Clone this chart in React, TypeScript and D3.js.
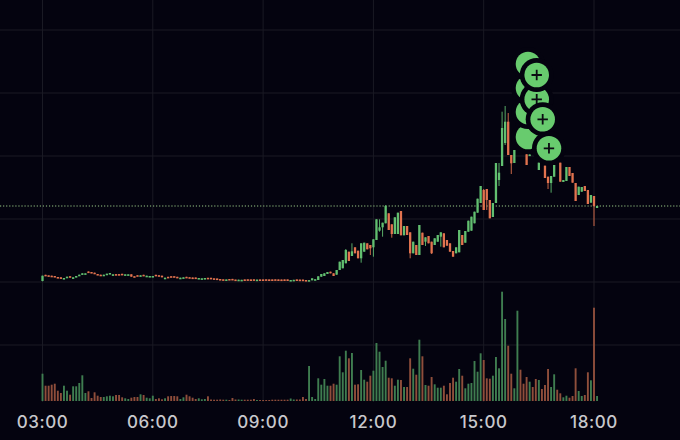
import React from "react";
import * as d3 from "d3";

const opens = [
  159, 165.2, 164.7, 164.3, 164, 163, 162.7, 161.3, 162, 163.8, 161.9, 162.7, 164, 165.3, 166.2, 168.5, 168, 167.3, 166, 165.3,
  164.7, 165.3, 166.3, 165, 165.9, 165.9, 166.2, 165.2, 165.2, 165.7, 163.8, 164.8, 164, 165.2, 163.8, 163.5, 163.5, 165.2, 164.8, 164.3,
  161.8, 163.2, 163.8, 163.8, 163.2, 161.8, 162.2, 163.2, 162.8, 162.5, 162.5, 161.5, 161.2, 161.5, 162.2, 162.2, 161.7, 161.5, 161, 160.7,
  160.2, 161, 161.1, 160.5, 159.9, 159.8, 160.6, 160.7, 160.6, 160.7, 160, 160.6, 160.6, 160.7, 160.6, 160.6, 160.7, 160.6, 160.5, 160.6,
  160.6, 159.6, 159.8, 160.6, 160.4, 160.4, 160, 159.6, 159.7, 160.2,
  160, 163.3, 164, 166, 168.3, 166.7, 165.3, 170, 171.7, 176.7, 188.3, 184, 192.7, 189.3, 181.7, 188.3, 196.7, 195, 192.7, 200,
  209.3, 212.7, 216.7, 226.7, 215.7, 206, 206, 229, 204.7, 214, 207.7, 186.7, 195, 185, 207.3, 198.3, 204, 198.3, 195, 198.3,
  203.3, 206.7, 200, 196.7, 189, 186.7, 187.7, 205, 197.3, 208.3, 209.3, 216.7, 227.3, 237, 250, 251, 240, 223, 237, 260,
  274, 297, 318.3, 285, 277, 294, 305, 300, 285.7, 284.5, 295, 290, 270, 281, 274.3, 263.3, 257, 263.3, 284, 277.3,
  258, 259, 273, 267, 257, 245, 248.3, 254, 250, 237.3, 244, 232,
];
const closes = [
  164.3, 164.7, 164.3, 164, 163, 162.7, 161.3, 162, 163.3, 163.3, 162.7, 164, 165.3, 166.7, 166.7, 168, 167.3, 166, 165.3, 164.7,
  165.3, 166.3, 167, 165.7, 165.3, 165.3, 165.7, 165.7, 165.7, 163.3, 163.3, 164.3, 164.7, 164.7, 164.3, 164, 164, 164.7, 164.3, 162.7,
  162.3, 162.7, 163.3, 163.3, 162.7, 162.3, 162.7, 162.7, 162.3, 162, 162, 162, 161.7, 162, 161.7, 161.7, 161.2, 161, 160, 160.2,
  160.6, 160.6, 160.5, 160.3, 160.3, 160.2, 160.2, 160.3, 160.2, 160.2, 160.4, 160.2, 160.2, 160.3, 160.2, 160.2, 160.3, 160.2, 160.1, 160.2,
  160.2, 160, 160.2, 160.2, 160, 160, 159.5, 159.9, 161.7, 160.8,
  163.7, 166, 166.7, 168, 166.7, 164, 170, 178.3, 180, 190, 179, 188.7, 186.7, 181.7, 196.7, 197.3, 190.7, 191.7, 200.7, 220.7,
  212.7, 217.3, 234, 210, 206, 222.7, 227.3, 204.7, 214, 205, 186.7, 198.3, 185, 215, 195, 202.7, 196.7, 186.7, 201.7, 205,
  207.7, 192.7, 194.3, 188.3, 183.3, 192.7, 210, 195, 209, 219.3, 223.3, 228.3, 241.3, 254, 230, 240, 221.7, 237, 277, 267.3,
  312, 318.3, 285, 276.7, 290, 310, 290, 288, 275, 285.5, 290, 285, 277.3, 279, 262, 257, 264, 275, 282, 258.3,
  260, 273, 264, 257.3, 239, 253.3, 253, 249, 236, 245, 234, 234,
];
const volumes = [
  27.3, 15.3, 15.3, 16.3, 17.3, 10.3, 8, 15.3, 10.3, 6.3, 14.7, 14.7, 18, 25.7, 8, 9.7, 3, 8.7, 5.3, 4,
  4, 4.7, 5.3, 4.7, 6, 6, 3.7, 2.7, 2, 3.3, 4, 4, 6.7, 6, 3.3, 2.7, 5.3, 2, 2.7, 1.7,
  2.7, 4.7, 5, 5, 4.7, 2, 3.7, 6.3, 4.7, 3.3, 2, 2.7, 1.7, 2, 4.7, 1.5, 1.3, 1.3, 1.5, 1.3,
  1.3, 1, 3, 1.5, 1.5, 1.3, 1.3, 1.3, 1.3, 2, 1, 1, 1, 1, 1, 1.3, 1.3, 1.3, 1.3, 1.3,
  1.3, 2.5, 1.5, 1.5, 1.5, 4, 2, 35, 4, 2,
  22.7, 16.3, 22, 15.3, 15.3, 17.3, 16.3, 44.7, 28.7, 50.3, 42.7, 48, 16.3, 16.7, 31, 21.3, 19.3, 25.3, 30.3, 58,
  49.3, 34, 40.3, 23.3, 22.7, 15.3, 21.3, 21, 14, 14, 42.7, 32.3, 26.3, 61.3, 44.7, 16, 15.3, 24, 16.7, 13.3,
  13.3, 15.3, 6.7, 18, 23.3, 19.3, 32, 25.3, 12.7, 17.3, 18, 40, 29.3, 47.7, 41, 22.7, 22.3, 25.3, 44, 32.7,
  109.3, 82, 55.3, 27.3, 12.7, 90.3, 31.3, 17.3, 24, 19.3, 14, 22, 21, 12, 16, 32, 14, 26.7, 11.3, 7.7,
  3.7, 5.3, 3.3, 5, 32.7, 10, 5, 6, 28.7, 20.7, 93.3, 5,
];
// bars whose wick reaches past the body: [bar, price]
const highWicks = [[99, 191], [101, 196.7], [110, 220.7], [112, 235], [144, 251], [149, 277], [150, 328.3], [151, 334], [152, 327]];
const lowWicks = [
  [0, 158.7], [104, 177.3], [107, 185], [108, 183.3], [110, 208.3], [111, 203.3], [114, 202.3], [120, 181.7], [125, 194], [127, 186],
  [130, 193.3], [145, 230], [149, 254], [151, 295], [153, 266], [165, 251], [166, 247.3], [180, 214],
];
const priceLines = [410, 347, 284, 221, 158, 95];
const lastPrice = 234;
// buy markers, in stacking order: [bar, price]
const backMarkers = [[158.46, 303], [158.46, 328], [158.46, 352], [158.46, 376]];
const frontMarkers = [[161.3, 340.7], [161.3, 365], [163.25, 320.7], [165.3, 291.7]];

const WIDTH = 680;
const HEIGHT = 440;
const BG = "#04030f";
const GREEN = "#62bf70";
const RED = "#e2734f";
const VOL_GREEN = "#3f7d50";
const VOL_RED = "#8f4e3b";
const BUBBLE = "#68cb6e";

const start = new Date(2024, 0, 1, 3, 0);
const end = new Date(2024, 0, 1, 18, 0);
const barTime = (i: number) => d3.timeSecond.offset(start, Math.round(i * 300));
const fmt = d3.timeFormat("%H:%M");

const x = d3.scaleTime().domain([start, end]).range([42.5, 594]);
const y = d3.scaleLinear().domain([0, 440]).range([440, 0]);
const vy = d3.scaleLinear().domain([0, 120]).range([401, 281]);
const timeTicks = d3.timeHour.range(start, d3.timeMinute.offset(end, 1), 3);

const highs = new Map(highWicks as [number, number][]);
const lows = new Map(lowWicks as [number, number][]);

export default function App() {
  return (
    <svg
      width={WIDTH}
      height={HEIGHT}
      style={{ position: "absolute", left: 0, top: 0, display: "block", background: BG }}
    >
      <rect width={WIDTH} height={HEIGHT} fill={BG} />
      {priceLines.map((p) => (
        <line key={p} x1={0} x2={WIDTH} y1={y(p)} y2={y(p)} stroke="#1a1a24" strokeWidth={1} />
      ))}
      {timeTicks.map((t) => (
        <line key={+t} x1={x(t)} x2={x(t)} y1={0} y2={402} stroke="#1a1a24" strokeWidth={1} />
      ))}

      {volumes.map((v, i) => (
        <rect
          key={i}
          x={x(barTime(i)) - 0.95}
          y={vy(v)}
          width={1.9}
          height={vy(0) - vy(v)}
          fill={closes[i] >= opens[i] ? VOL_GREEN : VOL_RED}
        />
      ))}

      <line x1={0} x2={WIDTH} y1={y(lastPrice)} y2={y(lastPrice)} stroke="#9acb87" strokeWidth={1.2} strokeDasharray="1.2 1.86" />

      {opens.map((o, i) => {
        const c = closes[i];
        const cx = x(barTime(i));
        const color = c >= o ? GREEN : RED;
        const top = Math.max(o, c);
        const bottom = Math.min(o, c);
        return (
          <g key={i}>
            <line
              x1={cx}
              x2={cx}
              y1={y(highs.get(i) ?? top)}
              y2={y(lows.get(i) ?? bottom)}
              stroke={color}
              strokeWidth={0.9}
            />
            <rect
              x={cx - 1.15}
              y={y(top)}
              width={2.3}
              height={Math.max(1.6, y(bottom) - y(top))}
              fill={color}
            />
          </g>
        );
      })}

      {backMarkers.map(([bar, price]) => (
        <g key={price} transform={`translate(${x(barTime(bar))},${y(price)})`}>
          <circle r={17} fill={BG} />
          <circle r={12.3} fill={BUBBLE} />
        </g>
      ))}
      {frontMarkers.map(([bar, price]) => (
        <g key={price} transform={`translate(${x(barTime(bar))},${y(price)})`}>
          <circle r={17} fill={BG} />
          <circle r={12.3} fill={BUBBLE} />
          <path d="M-5.2,0H5.2M0,-5.2V5.2" stroke="#0b0b12" strokeWidth={1.8} />
        </g>
      ))}

      {timeTicks.map((t) => (
        <text
          key={+t}
          x={x(t)}
          y={428}
          textAnchor="middle"
          fill="#c8c8cc"
          fontFamily="Inter, 'Noto Sans', sans-serif"
          fontWeight={500}
          fontSize={17}
          letterSpacing={0.6}
        >
          {fmt(t)}
        </text>
      ))}
    </svg>
  );
}
